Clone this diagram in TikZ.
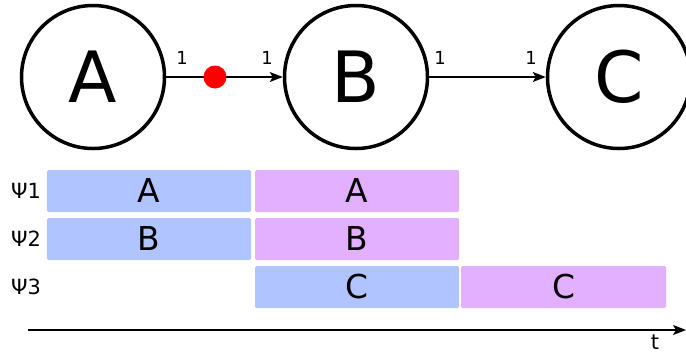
\documentclass[tikz,border=0pt]{standalone}
\usepackage{fontspec}
\setmainfont{DejaVu Sans}
\usetikzlibrary{arrows.meta}
\definecolor{barblue}{RGB}{176,196,255}
\definecolor{barpink}{RGB}{227,176,255}
\tikzset{
  stnode/.style={circle, draw, line width=3.5bp, minimum size=143bp, inner sep=0pt, font=\fontsize{71}{71}\selectfont},
  edge/.style={line width=1.3bp, -{Stealth[length=13bp,width=10bp,inset=3bp]}},
  mult/.style={font=\fontsize{18}{18}\selectfont, inner sep=0pt},
  bar/.style={rounded corners=1.5bp, inner sep=0pt, minimum height=42bp, font=\fontsize{33}{33}\selectfont},
  rowlabel/.style={font=\fontsize{21}{21}\selectfont, inner sep=0pt},
}
\begin{document}
\begin{tikzpicture}[x=1bp,y=-1bp]
\useasboundingbox (0,0) rectangle (686,354);
\node[stnode] (A) at (93,77) {A};
\node[stnode] (B) at (356,77) {B};
\node[stnode] (C) at (619,77) {C};
\draw[edge] (A) -- (B);
\draw[edge] (B) -- (C);
\node[circle, fill=red, minimum size=23bp, inner sep=0pt] (tok) at (215,77) {};
\node[mult] (m1) at (182,58) {1};
\node[mult] (m2) at (267,58) {1};
\node[mult] (m3) at (440,58) {1};
\node[mult] (m4) at (531,58) {1};
\node[rowlabel] (p1) at (26,191) {Ψ1};
\node[rowlabel] (p2) at (26,239) {Ψ2};
\node[rowlabel] (p3) at (26,287) {Ψ3};
\node[bar, fill=barblue, minimum width=204bp] (b11) at (149,191) {A};
\node[bar, fill=barpink, minimum width=204bp] (b12) at (357,191) {A};
\node[bar, fill=barblue, minimum width=204bp] (b21) at (149,239) {B};
\node[bar, fill=barpink, minimum width=204bp] (b22) at (357,239) {B};
\node[bar, fill=barblue, minimum width=204bp] (b32) at (357,287) {C};
\node[bar, fill=barpink, minimum width=205bp] (b33) at (563.5,287) {C};
\coordinate (t0) at (28,330);
\coordinate (t1) at (686,330);
\draw[edge] (t0) -- (t1);
\node[rowlabel, anchor=base] (tl) at (655,349.5) {t};
\end{tikzpicture}
\end{document}
